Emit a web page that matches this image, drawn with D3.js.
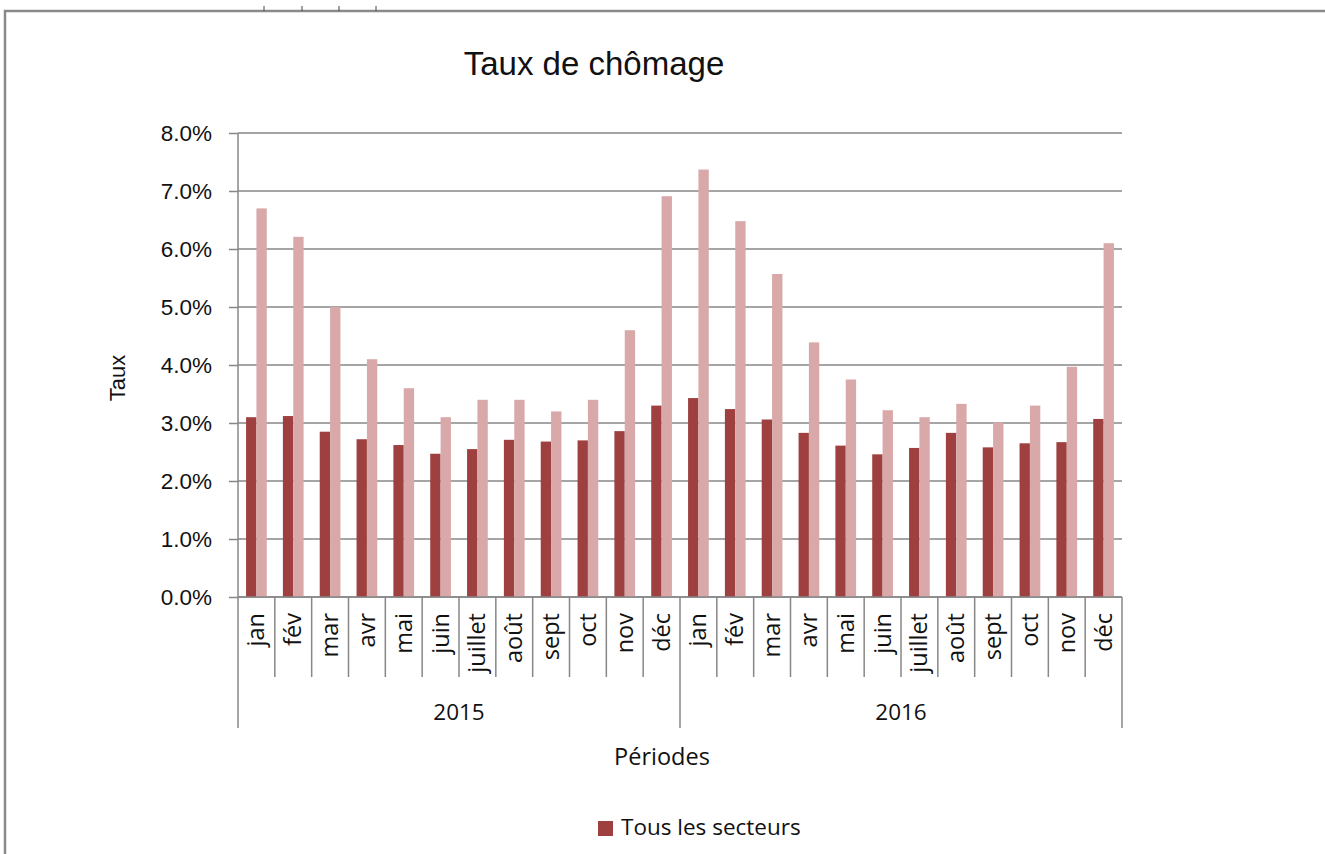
<!DOCTYPE html>
<html>
<head>
<meta charset="utf-8">
<style>
    body { margin: 0; background: #fff; }
    svg { display: block; font-family: 'Open Sans', 'Noto Sans', sans-serif; }
    .grid line { stroke: #878787; stroke-width: 1.5; }
    .y .tick text { font-family: 'Liberation Sans', Arial, sans-serif; font-size: 22.5px; fill: #111; }
    .y .tick line { stroke: #878787; stroke-width: 1.5; }
    .y .domain { display: none; }
    .month { font-size: 23.5px; fill: #111; }
    .year { font-size: 22.5px; fill: #111; }
    .sep { stroke: #878787; stroke-width: 1.5; }
</style>
</head>
<body>
<svg width="1325" height="854"></svg>
<script src="https://d3js.org/d3.v7.min.js"></script>
<script>
// data
let years = ["2015", "2016"]
let months = ["jan", "fév", "mar", "avr", "mai", "juin", "juillet", "août", "sept", "oct", "nov", "déc"]
let tousSecteurs = [3.10, 3.12, 2.85, 2.72, 2.62, 2.47, 2.55, 2.71, 2.68, 2.70, 2.86, 3.30,
                    3.43, 3.24, 3.06, 2.83, 2.61, 2.46, 2.57, 2.83, 2.58, 2.65, 2.67, 3.07]
let autreSerie = [6.70, 6.21, 5.00, 4.10, 3.60, 3.10, 3.40, 3.40, 3.20, 3.40, 4.60, 6.91,
                  7.37, 6.48, 5.57, 4.39, 3.75, 3.22, 3.10, 3.33, 3.01, 3.30, 3.97, 6.10]
let yTicks = [0, 1, 2, 3, 4, 5, 6, 7, 8]
let seriesNames = ["Tous les secteurs", "autre"]
let seriesColors = ["#9e4040", "#d9a9a9"]

let svg = d3.select("svg")

let plotLeft = 238, plotRight = 1122, plotTop = 133, plotBottom = 597

// build rows
let rows = []
years.forEach((yr, yi) => {
    months.forEach((m, mi) => {
        let i = yi * 12 + mi
        rows.push({ key: yr + "-" + m, year: yr, month: m, vals: [tousSecteurs[i], autreSerie[i]] })
    })
})

// outer frame
svg.append("rect")
    .attr("x", 5).attr("y", 11)
    .attr("width", 1360).attr("height", 880)
    .attr("fill", "none")
    .attr("stroke", "#8a8a8a")
    .attr("stroke-width", 2.5)

// little marks above frame
;[264, 302, 339, 376].forEach(xx => {
    svg.append("line")
        .attr("x1", xx).attr("x2", xx).attr("y1", 6).attr("y2", 11)
        .attr("stroke", "#444").attr("stroke-width", 1)
})

let x0 = d3.scaleBand()
    .domain(rows.map(d => d.key))
    .range([plotLeft, plotRight])
    .paddingInner(0.4375)
    .paddingOuter(0.21875)

let x1 = d3.scaleBand()
    .domain(seriesNames)
    .range([0, x0.bandwidth()])

let y = d3.scaleLinear()
    .domain([0, 8])
    .range([plotBottom, plotTop])

let color = d3.scaleOrdinal().domain(seriesNames).range(seriesColors)

// gridlines
svg.append("g")
    .attr("class", "grid")
    .selectAll("line")
    .data(yTicks)
    .join("line")
    .attr("x1", plotLeft).attr("x2", plotRight)
    .attr("y1", d => y(d)).attr("y2", d => y(d))

// y axis
svg.append("g")
    .attr("class", "y axis")
    .attr("transform", `translate(${plotLeft},0)`)
    .call(d3.axisLeft(y).tickValues(yTicks).tickSize(9).tickPadding(17)
        .tickFormat(d => d3.format(".1f")(d) + "%"))

// bars
svg.append("g")
    .selectAll("g")
    .data(rows)
    .join("g")
    .attr("transform", d => `translate(${x0(d.key)},0)`)
    .selectAll("rect")
    .data(d => d.vals.map((v, i) => ({ name: seriesNames[i], v: v })))
    .join("rect")
    .attr("x", d => x1(d.name))
    .attr("width", x1.bandwidth())
    .attr("y", d => y(d.v))
    .attr("height", d => y(0) - y(d.v))
    .attr("fill", d => color(d.name))

// x axis: boundaries
let step = x0.step()
let boundary = i => plotLeft + i * step

svg.append("line").attr("class", "sep")
    .attr("x1", plotLeft).attr("x2", plotRight).attr("y1", plotBottom).attr("y2", plotBottom)

// vertical y axis line
svg.append("line").attr("class", "sep")
    .attr("x1", plotLeft).attr("x2", plotLeft).attr("y1", plotTop).attr("y2", 728)

d3.range(1, rows.length + 1).forEach(i => {
    let isYear = i % 12 === 0
    svg.append("line").attr("class", "sep")
        .attr("x1", boundary(i)).attr("x2", boundary(i))
        .attr("y1", plotBottom).attr("y2", isYear ? 728 : 677)
})

// month labels
svg.append("g")
    .selectAll("text")
    .data(rows)
    .join("text")
    .attr("class", "month")
    .attr("text-anchor", "end")
    .attr("transform", d => `translate(${x0(d.key) + x0.bandwidth() / 2 + 8},613) rotate(-90)`)
    .text(d => d.month)

// year labels
svg.append("g")
    .selectAll("text")
    .data(years)
    .join("text")
    .attr("class", "year")
    .attr("text-anchor", "middle")
    .attr("x", (d, i) => (boundary(i * 12) + boundary(i * 12 + 12)) / 2)
    .attr("y", 720)
    .text(d => d)

// title
svg.append("text")
    .attr("x", 594).attr("y", 75)
    .attr("text-anchor", "middle")
    .style("font-family", "'Liberation Sans', Arial, sans-serif")
    .style("font-size", "33px")
    .style("fill", "#111")
    .text("Taux de chômage")

// axis titles
svg.append("text")
    .attr("transform", "translate(125,378) rotate(-90)")
    .attr("text-anchor", "middle")
    .style("font-family", "'Liberation Sans', Arial, sans-serif")
    .style("font-size", "22px")
    .style("fill", "#111")
    .text("Taux")

svg.append("text")
    .attr("x", 662).attr("y", 765)
    .attr("text-anchor", "middle")
    .style("font-size", "23.5px")
    .style("fill", "#111")
    .text("Périodes")

// legend
svg.append("rect")
    .attr("x", 598).attr("y", 821)
    .attr("width", 15).attr("height", 15)
    .attr("fill", seriesColors[0])

svg.append("text")
    .attr("x", 621).attr("y", 835)
    .style("font-size", "22.5px")
    .style("fill", "#111")
    .text("Tous les secteurs")
</script>
</body>
</html>
